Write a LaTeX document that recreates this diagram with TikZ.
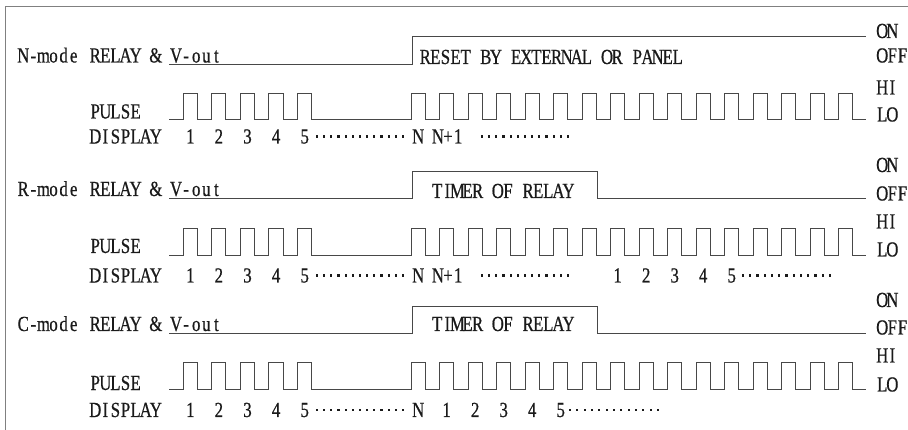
\documentclass[tikz,border=0pt]{standalone}
\usepackage{fontspec}
\setmainfont{Liberation Serif}[FakeStretch=0.78,FakeBold=0.6]
\ExplSyntaxOn
\dim_new:N \l_mono_pitch_dim
\dim_set:Nn \l_mono_pitch_dim {10.1pt}
\NewDocumentCommand \mono {m} { \tl_map_inline:nn {#1} { \makebox[\l_mono_pitch_dim][c]{##1} } }
\ExplSyntaxOff
\definecolor{wavec}{HTML}{484848}
\definecolor{framec}{HTML}{808080}
\definecolor{txtc}{HTML}{1A1A1A}
\tikzset{
  txt/.style={anchor=base west, inner sep=0pt, text=txtc, font=\fontsize{21.5}{24}\selectfont},
  dig/.style={anchor=base, inner sep=0pt, text=txtc, font=\fontsize{21.5}{24}\selectfont},
  wave/.style={draw=wavec, line width=0.9pt},
  framel/.style={draw=framec, line width=1pt}
}
\newcommand\pulsetrain[2]{%
  \draw[wave] (169,#1)
    foreach \k in {0,...,4}{ -- ({183+28.6*\k},#1) -- ({183+28.6*\k},#2) -- ({197.3+28.6*\k},#2) -- ({197.3+28.6*\k},#1) }
    foreach \k in {0,...,15}{ -- ({411+28.5*\k},#1) -- ({411+28.5*\k},#2) -- ({425.3+28.5*\k},#2) -- ({425.3+28.5*\k},#1) }
    -- (866,#1);}
\newcommand\dotrow[3]{%
  \foreach \i in {0,...,12}{\fill[txtc] ({#1+(#2-#1)/12*\i-1.1},{#3-1.1}) rectangle ++(2.2,2.2);}}
\begin{document}
\begin{tikzpicture}[x=1pt,y=-1pt]
\useasboundingbox (0,0) rectangle (908,430);
% frame
\draw[framel] (5,430) -- (5,7) -- (908,7);

% ================= N-mode =================
\node[txt] (nmode) at (18,62.5) {\mono{N-mode}};
\node[txt] (nrelay) at (90,62.5) {\mono{RELAY~\&~V-out}};
\node[txt] (nreset) at (420,64) {\mono{RESET~BY~EXTERNAL~OR~PANEL}};
\draw[wave] (169,64) -- (412,64) -- (412,36) -- (866,36);
\node[txt] (non) at (877,38) {\mono{ON}};
\node[txt] (noff) at (877,62.5) {\mono{OFF}};
\node[txt] (nhi) at (877,94.5) {\mono{HI}};
\node[txt] (nlo) at (877,121.5) {\mono{LO}};
\node[txt] (npulse) at (90,118.5) {\mono{PULSE}};
\pulsetrain{119.5}{93}
\node[txt] (ndisp) at (90,143.5) {\mono{DISPLAY}};
\foreach \d [count=\i from 0] in {1,2,3,4,5}
  \node[dig] (nd\d) at ({190.3+28.6*\i},143.5) {\d};
\dotrow{317}{403}{136.5}
\node[dig] (nN) at (418.2,143.5) {N};
\node[dig] (nN1) at (448,143.5) {\mono{N+1}};
\dotrow{482}{568}{136.5}

% ================= R-mode =================
\node[txt] (rmode) at (18,196) {\mono{R-mode}};
\node[txt] (rrelay) at (90,196) {\mono{RELAY~\&~V-out}};
\node[txt] (rtimer) at (432,198) {\mono{TIMER~OF~RELAY}};
\draw[wave] (169,198) -- (412,198) -- (412,171) -- (597,171) -- (597,198) -- (866,198);
\node[txt] (ron) at (877,172) {\mono{ON}};
\node[txt] (roff) at (877,200.5) {\mono{OFF}};
\node[txt] (rhi) at (877,228.5) {\mono{HI}};
\node[txt] (rlo) at (877,256.5) {\mono{LO}};
\node[txt] (rpulse) at (90,253) {\mono{PULSE}};
\pulsetrain{255}{228}
\node[txt] (rdisp) at (90,282.5) {\mono{DISPLAY}};
\foreach \d [count=\i from 0] in {1,2,3,4,5}
  \node[dig] (rd\d) at ({190.3+28.6*\i},282.5) {\d};
\dotrow{317}{403}{275.5}
\node[dig] (rN) at (418.2,282.5) {N};
\node[dig] (rN1) at (448,282.5) {\mono{N+1}};
\dotrow{482}{568}{275.5}
\foreach \d [count=\i from 7] in {1,2,3,4,5}
  \node[dig] (re\d) at ({418.2+28.5*\i},282.5) {\d};
\dotrow{743}{830}{275.5}

% ================= C-mode =================
\node[txt] (cmode) at (18,331) {\mono{C-mode}};
\node[txt] (crelay) at (90,331) {\mono{RELAY~\&~V-out}};
\node[txt] (ctimer) at (432,331) {\mono{TIMER~OF~RELAY}};
\draw[wave] (169,333) -- (412,333) -- (412,306) -- (597,306) -- (597,333) -- (866,333);
\node[txt] (con) at (877,307) {\mono{ON}};
\node[txt] (coff) at (877,334.5) {\mono{OFF}};
\node[txt] (chi) at (877,362.5) {\mono{HI}};
\node[txt] (clo) at (877,391.5) {\mono{LO}};
\node[txt] (cpulse) at (90,390) {\mono{PULSE}};
\pulsetrain{389.5}{362}
\node[txt] (cdisp) at (90,417) {\mono{DISPLAY}};
\foreach \d [count=\i from 0] in {1,2,3,4,5}
  \node[dig] (cd\d) at ({190.3+28.6*\i},417) {\d};
\dotrow{317}{403}{410}
\node[dig] (cN) at (418.2,417) {N};
\foreach \d [count=\i from 1] in {1,2,3,4,5}
  \node[dig] (ce\d) at ({418.2+28.5*\i},417) {\d};
\dotrow{570}{658}{410}
\end{tikzpicture}
\end{document}
